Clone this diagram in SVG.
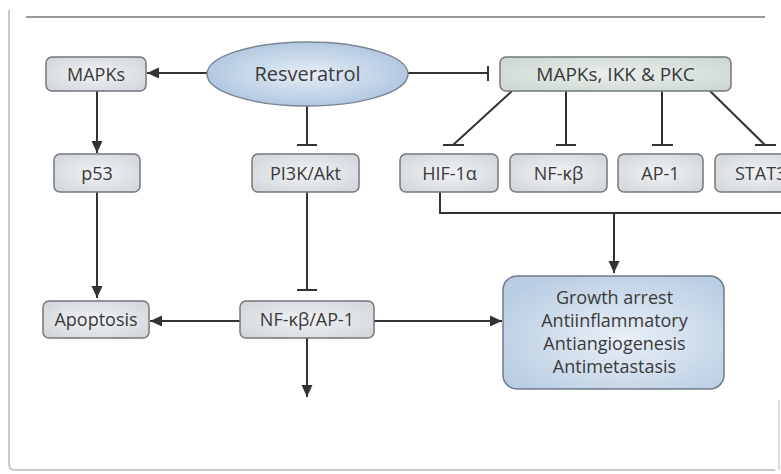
<svg xmlns="http://www.w3.org/2000/svg" width="781" height="474" viewBox="0 0 781 474">
<defs>
<radialGradient id="gGray" cx="50%" cy="50%" r="65%">
<stop offset="0" stop-color="#f1f3f5"/><stop offset="1" stop-color="#d2d6db"/>
</radialGradient>
<radialGradient id="gGreen" cx="50%" cy="50%" r="65%">
<stop offset="0" stop-color="#ebefec"/><stop offset="1" stop-color="#ccd8d1"/>
</radialGradient>
<radialGradient id="gBlue" cx="50%" cy="50%" r="60%">
<stop offset="0" stop-color="#e6eef7"/><stop offset="1" stop-color="#a8c1dc"/>
</radialGradient>
<radialGradient id="gBox" cx="55%" cy="55%" r="65%">
<stop offset="0" stop-color="#e9f0f7"/><stop offset="1" stop-color="#b8cce2"/>
</radialGradient>
<marker id="arr" markerUnits="userSpaceOnUse" markerWidth="14" markerHeight="12" refX="12" refY="6" orient="auto">
<path d="M0,0.5 L12,6 L0,11.5 Z" fill="#333"/>
</marker>
<style>
.box{fill:url(#gGray);stroke:#74787c;stroke-width:1.5}
.t{font-family:"Open Sans","Liberation Sans",sans-serif;font-size:18px;fill:#3a3a3a;text-anchor:middle}
.c{fill:none;stroke:#333;stroke-width:2}
.bar{stroke:#333;stroke-width:2}
</style>
</defs>
<rect width="781" height="474" fill="#ffffff"/>
<g id="frame" fill="none">
<path d="M9,10 V464 Q9,470 15,470 H775" stroke="#b8b8b8" stroke-width="1.5"/>
<path d="M779,400 V470" stroke="#d0d0d0" stroke-width="1.5"/>
<line x1="26" y1="17" x2="765" y2="17" stroke="#9a9a9a" stroke-width="2"/>
</g>
<g id="connectors">
<line class="c" x1="207" y1="73" x2="147" y2="73" marker-end="url(#arr)"/>
<line class="c" x1="97" y1="91" x2="97" y2="153" marker-end="url(#arr)"/>
<line class="c" x1="97" y1="192" x2="97" y2="298" marker-end="url(#arr)"/>
<line class="c" x1="307" y1="106" x2="307" y2="145"/>
<line class="bar" x1="297" y1="145" x2="317" y2="145"/>
<line class="c" x1="307" y1="192" x2="307" y2="290"/>
<line class="bar" x1="297" y1="290" x2="317" y2="290"/>
<line class="c" x1="408" y1="73" x2="488" y2="73"/>
<line class="bar" x1="488" y1="66" x2="488" y2="81"/>
<line class="c" x1="512" y1="91" x2="453" y2="145"/>
<line class="bar" x1="443" y1="145" x2="464" y2="145"/>
<line class="c" x1="566" y1="91" x2="566" y2="145"/>
<line class="bar" x1="556" y1="145" x2="576" y2="145"/>
<line class="c" x1="662" y1="91" x2="662" y2="145"/>
<line class="bar" x1="652" y1="145" x2="673" y2="145"/>
<line class="c" x1="710" y1="91" x2="765" y2="145"/>
<line class="bar" x1="755" y1="145" x2="776" y2="145"/>
<path class="c" d="M440,192 V213 H782"/>
<line class="c" x1="614" y1="213" x2="614" y2="273" marker-end="url(#arr)"/>
<line class="c" x1="240" y1="321" x2="150" y2="321" marker-end="url(#arr)"/>
<line class="c" x1="374" y1="321" x2="502" y2="321" marker-end="url(#arr)"/>
<line class="c" x1="307" y1="338" x2="307" y2="397" marker-end="url(#arr)"/>
</g>
<g id="resveratrol">
<ellipse cx="307.5" cy="74" rx="100.5" ry="32" fill="url(#gBlue)" stroke="#7a8594" stroke-width="1.5"/>
<text class="t" x="307.5" y="81" style="font-size:20px">Resveratrol</text>
</g>
<g id="mapks">
<rect class="box" x="46" y="57" width="100" height="34" rx="6"/>
<text class="t" x="96" y="80.5">MAPKs</text>
</g>
<g id="p53">
<rect class="box" x="54" y="154" width="86" height="38" rx="6"/>
<text class="t" x="97" y="179.5">p53</text>
</g>
<g id="pi3k">
<rect class="box" x="252" y="154" width="107" height="38" rx="6"/>
<text class="t" x="305.5" y="179.5">PI3K/Akt</text>
</g>
<g id="mapks-ikk-pkc">
<rect x="500" y="57" width="231" height="34" rx="6" fill="url(#gGreen)" stroke="#74787c" stroke-width="1.5"/>
<text class="t" x="615.5" y="80.5" style="font-size:19px">MAPKs, IKK &amp; PKC</text>
</g>
<g id="hif">
<rect class="box" x="400" y="154" width="98" height="38" rx="6"/>
<text class="t" x="449.5" y="179.5">HIF-1α</text>
</g>
<g id="nfkb">
<rect class="box" x="510" y="154" width="97" height="38" rx="6"/>
<text class="t" x="558.5" y="179.5">NF-κβ</text>
</g>
<g id="ap1">
<rect class="box" x="618" y="154" width="85" height="38" rx="6"/>
<text class="t" x="660.5" y="179.5">AP-1</text>
</g>
<g id="stat3">
<rect class="box" x="715" y="154" width="90" height="38" rx="6"/>
<text class="t" x="735" y="179.5" style="text-anchor:start">STAT3</text>
</g>
<g id="apoptosis">
<rect class="box" x="43" y="301" width="106" height="37" rx="6"/>
<text class="t" x="96" y="326">Apoptosis</text>
</g>
<g id="nfkb-ap1">
<rect class="box" x="240" y="301" width="134" height="37" rx="6"/>
<text class="t" x="307" y="326">NF-κβ/AP-1</text>
</g>
<g id="outcomes">
<rect x="503" y="276" width="221" height="113" rx="14" fill="url(#gBox)" stroke="#6f7b8a" stroke-width="1.5"/>
<text class="t" x="614.5" y="304">Growth arrest</text>
<text class="t" x="614.5" y="327">Antiinflammatory</text>
<text class="t" x="614.5" y="350">Antiangiogenesis</text>
<text class="t" x="614.5" y="373">Antimetastasis</text>
</g>
</svg>
